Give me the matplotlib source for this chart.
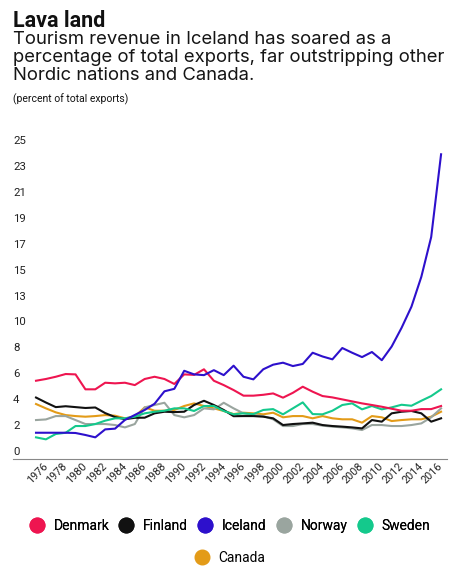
import numpy as np
import matplotlib
matplotlib.use('Agg')
import matplotlib.pyplot as plt
from matplotlib.lines import Line2D

plt.rcParams['font.family'] = ['Roboto', 'DejaVu Sans']

years = np.arange(1975, 2017)

denmark = [5.65, 5.79, 5.97, 6.19, 6.16, 4.96, 4.96, 5.49, 5.44, 5.49,
           5.30, 5.79, 5.97, 5.79, 5.39, 6.16, 6.12, 6.57, 5.65, 5.30,
           4.90, 4.45, 4.45, 4.52, 4.63, 4.29, 4.68, 5.17, 4.77, 4.42,
           4.31, 4.15, 3.99, 3.83, 3.70, 3.56, 3.40, 3.24, 3.24, 3.37,
           3.37, 3.62]
finland = [4.30, 3.90, 3.53, 3.60, 3.53, 3.46, 3.50, 3.05, 2.73, 2.56,
           2.67, 2.68, 3.03, 3.16, 3.13, 3.16, 3.70, 4.04, 3.70, 3.30,
           2.80, 2.81, 2.81, 2.76, 2.63, 2.09, 2.17, 2.22, 2.28, 2.09,
           2.01, 1.96, 1.90, 1.82, 2.49, 2.36, 3.03, 3.16, 3.22, 3.03,
           2.36, 2.63]
iceland = [1.47, 1.47, 1.47, 1.47, 1.45, 1.29, 1.10, 1.74, 1.80, 2.50,
           2.90, 3.30, 3.80, 4.80, 5.00, 6.45, 6.16, 6.10, 6.50, 6.10,
           6.86, 5.97, 5.76, 6.57, 6.94, 7.10, 6.83, 7.00, 7.90, 7.60,
           7.37, 8.28, 7.90, 7.55, 7.96, 7.30, 8.40, 9.90, 11.60, 14.00,
           17.20, 23.85]
norway = [2.49, 2.54, 2.81, 2.81, 2.49, 2.17, 2.17, 2.17, 2.09, 1.90,
          2.17, 3.51, 3.70, 3.88, 2.89, 2.71, 2.89, 3.43, 3.35, 3.88,
          3.43, 3.03, 2.89, 2.81, 2.55, 2.01, 2.01, 2.17, 2.17, 2.04,
          1.96, 1.90, 1.82, 1.69, 2.09, 2.09, 2.01, 2.01, 2.09, 2.22,
          2.71, 3.43]
sweden = [1.10, 0.94, 1.37, 1.47, 2.01, 2.01, 2.17, 2.44, 2.63, 2.63,
          2.76, 3.03, 3.16, 3.24, 3.43, 3.43, 3.22, 3.62, 3.62, 3.22,
          2.95, 3.03, 2.97, 3.30, 3.37, 2.95, 3.43, 3.91, 2.97, 2.95,
          3.24, 3.70, 3.83, 3.35, 3.62, 3.35, 3.51, 3.72, 3.64, 4.04,
          4.42, 4.96]
canada = [3.78, 3.43, 3.11, 2.89, 2.81, 2.76, 2.81, 2.89, 2.84, 2.63,
          2.76, 3.51, 3.24, 3.24, 3.30, 3.62, 3.83, 3.62, 3.43, 3.22,
          2.97, 3.08, 3.03, 2.95, 3.08, 2.71, 2.81, 2.81, 2.63, 2.81,
          2.63, 2.55, 2.55, 2.28, 2.81, 2.71, 2.41, 2.49, 2.55, 2.55,
          2.76, 3.16]

names = ['Denmark', 'Finland', 'Iceland', 'Norway', 'Sweden', 'Canada']
series = [denmark, finland, iceland, norway, sweden, canada]
colors = ['#ee1550', '#111111', '#2d10cc', '#9aa59f', '#14c98c', '#e39b18']

ytick_vals = np.linspace(0, 25, 13)
ytick_labels = [str(int(np.floor(v + 0.5))) for v in ytick_vals]
xtick_years = np.arange(1976, 2017, 2)

fig = plt.figure(figsize=(4.77, 5.74), dpi=100)
ax = fig.add_axes([13 / 477, 1 - 459 / 574, 434 / 477, 324 / 574])

# back to front
for i in [5, 3, 1, 4, 0, 2]:
    ax.plot(years, series[i], color=colors[i], lw=1.5)

ax.set_xlim(1972.67, 2016.6)
ax.set_ylim(-0.64, 25.4)
ax.set_yticks(ytick_vals)
ax.set_yticklabels(ytick_labels)
ax.set_xticks(xtick_years)
ax.set_xticklabels([str(y) for y in xtick_years], rotation=45, ha='right',
                   va='center', rotation_mode='anchor')
ax.tick_params(axis='y', length=0, pad=0, labelsize=8.2, labelcolor='#222222')
ax.tick_params(axis='x', length=0, pad=4, labelsize=7.8, labelcolor='#222222')
plt.setp(ax.get_yticklabels(), ha='left')
for s in ['top', 'right', 'left']:
    ax.spines[s].set_visible(False)
ax.spines['bottom'].set_color('#888888')
ax.spines['bottom'].set_linewidth(0.8)

fig.text(13 / 477, 1 - 10 / 574, 'Lava land', fontsize=15.5, fontweight='bold',
         va='top', ha='left', color='#111111')
fig.text(13 / 477, 1 - 31 / 574,
         'Tourism revenue in Iceland has soared as a\n'
         'percentage of total exports, far outstripping other\n'
         'Nordic nations and Canada.',
         fontsize=13.3, family=['Inter', 'Roboto', 'DejaVu Sans'],
         va='top', ha='left', color='#151515', linespacing=1.06)
fig.text(13 / 477, 1 - 93 / 574, '(percent of total exports)', fontsize=7.5,
         va='top', ha='left', color='#111111')

handles = [Line2D([], [], marker='o', ls='none', markersize=10.5,
                  markerfacecolor=c, markeredgecolor=c) for c in colors]
leg1 = fig.legend(handles[:5], names[:5], ncol=5, loc='center',
                  bbox_to_anchor=(230 / 477, 1 - 526 / 574), frameon=False,
                  fontsize=10, handletextpad=0.72, columnspacing=0.72,
                  handlelength=1.0)
leg2 = fig.legend(handles[5:], names[5:], ncol=1, loc='center',
                  bbox_to_anchor=(230 / 477, 1 - 558 / 574), frameon=False,
                  fontsize=10, handletextpad=0.72, handlelength=1.0)
fig.add_artist(leg1)

fig.savefig('out.png', dpi=100)
